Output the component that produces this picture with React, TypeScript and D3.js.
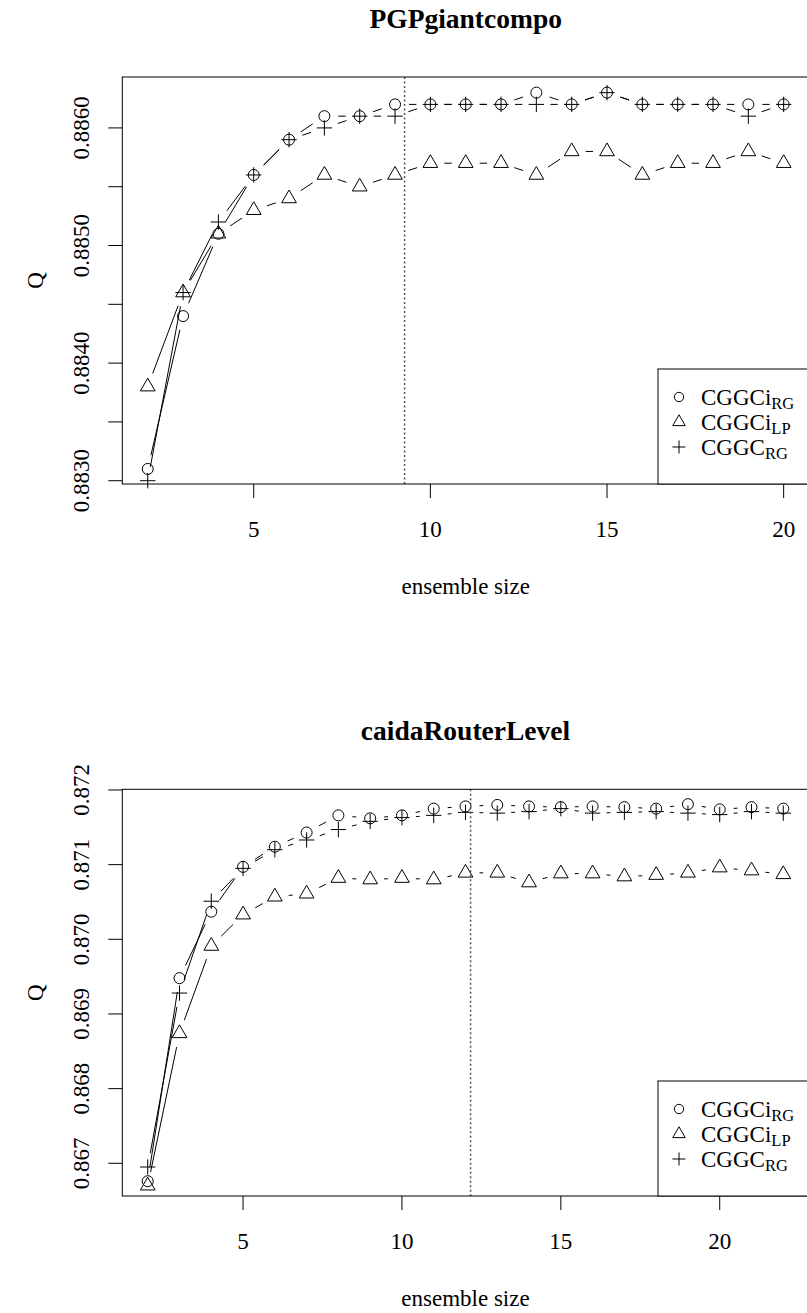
import React from 'react';
import * as d3 from 'd3';

// ---------- data ----------
const topSizes = [2, 3, 4, 5, 6, 7, 8, 9, 10, 11, 12, 13, 14, 15, 16, 17, 18, 19, 20];
const topCGGCiRG = [0.8831, 0.8844, 0.8851, 0.8856, 0.8859, 0.8861, 0.8861, 0.8862, 0.8862, 0.8862, 0.8862, 0.8863, 0.8862, 0.8863, 0.8862, 0.8862, 0.8862, 0.8862, 0.8862];
const topCGGCiLP = [0.8838, 0.8846, 0.8851, 0.8853, 0.8854, 0.8856, 0.8855, 0.8856, 0.8857, 0.8857, 0.8857, 0.8856, 0.8858, 0.8858, 0.8856, 0.8857, 0.8857, 0.8858, 0.8857];
const topCGGCRG = [0.8830, 0.8846, 0.8852, 0.8856, 0.8859, 0.8860, 0.8861, 0.8861, 0.8862, 0.8862, 0.8862, 0.8862, 0.8862, 0.8863, 0.8862, 0.8862, 0.8862, 0.8861, 0.8862];
const topYTicks = [0.8830, 0.8835, 0.8840, 0.8845, 0.8850, 0.8855, 0.8860];
const topYLabels = ['0.8830', '', '0.8840', '', '0.8850', '', '0.8860'];
const topVLine = 9.27;

const botSizes = [2, 3, 4, 5, 6, 7, 8, 9, 10, 11, 12, 13, 14, 15, 16, 17, 18, 19, 20, 21, 22];
const botCGGCiRG = [0.86676, 0.86948, 0.87037, 0.87097, 0.87124, 0.87143, 0.87166, 0.87162, 0.87166, 0.87175, 0.87178, 0.87180, 0.87178, 0.87177, 0.87178, 0.87177, 0.87175, 0.87181, 0.87174, 0.87177, 0.87175];
const botCGGCiLP = [0.86670, 0.86874, 0.86991, 0.87033, 0.87057, 0.87061, 0.87082, 0.87080, 0.87082, 0.87080, 0.87089, 0.87089, 0.87076, 0.87088, 0.87088, 0.87084, 0.87086, 0.87089, 0.87096, 0.87092, 0.87087];
const botCGGCRG = [0.86695, 0.86928, 0.87051, 0.87095, 0.87120, 0.87133, 0.87147, 0.87158, 0.87163, 0.87166, 0.87170, 0.87169, 0.87171, 0.87175, 0.87169, 0.87170, 0.87171, 0.87169, 0.87167, 0.87171, 0.87169];
const botYTicks = [0.867, 0.868, 0.869, 0.870, 0.871, 0.872];
const botYLabels = ['0.867', '0.868', '0.869', '0.870', '0.871', '0.872'];
const botVLine = 12.16;

const xTicks = [5, 10, 15, 20];
const legendNames = [
  { main: 'CGGCi', sub: 'RG', shape: 'circle' },
  { main: 'CGGCi', sub: 'LP', shape: 'triangle' },
  { main: 'CGGC', sub: 'RG', shape: 'plus' },
];

// ---------- styling ----------
const FONT = "'Liberation Serif', 'Times New Roman', Times, serif";
const FS = 23;
const GAP = 14;

function Marker({ shape, x, y, s = 1 }: { shape: string; x: number; y: number; s?: number }) {
  if (shape === 'circle') return <circle cx={x} cy={y} r={5.5 * s} fill="none" stroke="#000" strokeWidth={1} />;
  if (shape === 'triangle') {
    const r = 8.5 * s;
    const h = r * Math.sqrt(3) / 2;
    return <polygon points={`${x},${y - r} ${x + h},${y + r / 2} ${x - h},${y + r / 2}`} fill="none" stroke="#000" strokeWidth={1} />;
  }
  const c = 7.7 * s;
  return <path d={`M${x - c},${y}H${x + c}M${x},${y - c}V${y + c}`} stroke="#000" strokeWidth={1} fill="none" />;
}

function gappedSegments(pts: [number, number][]) {
  const segs: string[] = [];
  for (let i = 0; i < pts.length - 1; i++) {
    const [x1, y1] = pts[i];
    const [x2, y2] = pts[i + 1];
    const dx = x2 - x1, dy = y2 - y1;
    const L = Math.hypot(dx, dy);
    if (L <= 2 * GAP) continue;
    const ux = dx / L, uy = dy / L;
    segs.push(`M${x1 + ux * GAP},${y1 + uy * GAP}L${x2 - ux * GAP},${y2 - uy * GAP}`);
  }
  return segs.join('');
}

type PanelProps = {
  title: string;
  sizes: number[];
  series: { values: number[]; shape: string }[];
  xDomain: [number, number];
  yDomain: [number, number];
  box: { x0: number; x1: number; y0: number; y1: number };
  yTicks: number[];
  yLabels: string[];
  vline: number;
  legendTop: number;
};

function Panel(p: PanelProps) {
  const { box } = p;
  const x = d3.scaleLinear().domain(p.xDomain).range([box.x0, box.x1]);
  const y = d3.scaleLinear().domain(p.yDomain).range([box.y1, box.y0]);
  const midX = (box.x0 + box.x1) / 2;
  const midY = (box.y0 + box.y1) / 2;
  const tl = 14;
  const legX0 = 658;
  return (
    <g fontFamily={FONT}>
      <text x={midX} y={box.y0 - 49} textAnchor="middle" fontWeight="bold" fontSize={27.5}>{p.title}</text>
      {p.series.map((s, si) => {
        const pts: [number, number][] = p.sizes.map((sz, i) => [x(sz), y(s.values[i])]);
        return (
          <g key={si}>
            <path d={gappedSegments(pts)} stroke="#000" strokeWidth={1} fill="none" />
            {pts.map((pt, i) => <Marker key={i} shape={s.shape} x={pt[0]} y={pt[1]} />)}
          </g>
        );
      })}
      <line x1={x(p.vline)} x2={x(p.vline)} y1={box.y0} y2={box.y1} stroke="#555" strokeWidth={1.5} strokeDasharray="2,2.5" />
      <rect x={box.x0} y={box.y0} width={box.x1 - box.x0} height={box.y1 - box.y0} fill="none" stroke="#000" strokeWidth={1} />
      {xTicks.map((t) => (
        <g key={t}>
          <line x1={x(t)} x2={x(t)} y1={box.y1} y2={box.y1 + tl} stroke="#000" strokeWidth={1} />
          <text x={x(t)} y={box.y1 + 53} textAnchor="middle" fontSize={FS}>{t}</text>
        </g>
      ))}
      <text x={midX} y={box.y1 + 110} textAnchor="middle" fontSize={FS}>ensemble size</text>
      {p.yTicks.map((t, i) => (
        <g key={i}>
          <line x1={box.x0 - tl} x2={box.x0} y1={y(t)} y2={y(t)} stroke="#000" strokeWidth={1} />
          {p.yLabels[i] && (
            <text transform={`translate(89,${y(t)}) rotate(-90)`} textAnchor="middle" fontSize={FS}>{p.yLabels[i]}</text>
          )}
        </g>
      ))}
      <text transform={`translate(43,${midY}) rotate(-90)`} textAnchor="middle" fontSize={FS}>Q</text>
      <rect x={legX0} y={p.legendTop} width={box.x1 - legX0} height={box.y1 - p.legendTop} fill="#fff" stroke="#000" strokeWidth={1} />
      {legendNames.map((l, i) => {
        const ly = p.legendTop + 28 + i * 25;
        return (
          <g key={i}>
            <Marker shape={l.shape} x={679} y={ly} s={0.85} />
            <text x={701} y={ly + 7.5} fontSize={FS}>
              {l.main}
              <tspan fontSize={16.5} dy={4}>{l.sub}</tspan>
            </text>
          </g>
        );
      })}
    </g>
  );
}

export default function App() {
  return (
    <svg width={807} height={1313} style={{ position: 'absolute', left: 0, top: 0, background: '#fff' }}>
      <rect width={807} height={1313} fill="#fff" />
      <Panel
        title="PGPgiantcompo"
        sizes={topSizes}
        series={[
          { values: topCGGCiRG, shape: 'circle' },
          { values: topCGGCiLP, shape: 'triangle' },
          { values: topCGGCRG, shape: 'plus' },
        ]}
        xDomain={[1.28, 20.72]}
        yDomain={[0.882972, 0.886433]}
        box={{ x0: 122.3, x1: 809.1, y0: 77, y1: 484 }}
        yTicks={topYTicks}
        yLabels={topYLabels}
        vline={topVLine}
        legendTop={369}
      />
      <Panel
        title="caidaRouterLevel"
        sizes={botSizes}
        series={[
          { values: botCGGCiRG, shape: 'circle' },
          { values: botCGGCiLP, shape: 'triangle' },
          { values: botCGGCRG, shape: 'plus' },
        ]}
        xDomain={[1.2, 22.8]}
        yDomain={[0.866562, 0.872009]}
        box={{ x0: 122.3, x1: 808.7, y0: 789.3, y1: 1196 }}
        yTicks={botYTicks}
        yLabels={botYLabels}
        vline={botVLine}
        legendTop={1081}
      />
    </svg>
  );
}
